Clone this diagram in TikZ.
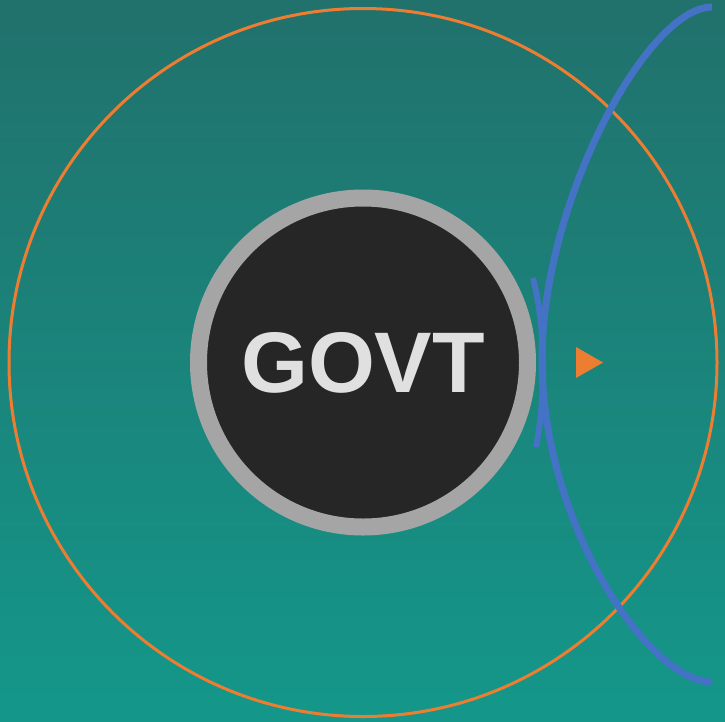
\documentclass[tikz,border=0pt]{standalone}
\usepackage{fontspec}
\setmainfont{Liberation Sans}
\definecolor{tealtop}{RGB}{33,113,108}
\definecolor{tealbottom}{RGB}{20,151,138}
\definecolor{orbitorange}{RGB}{237,125,49}
\definecolor{waveblue}{RGB}{68,114,196}
\definecolor{ringgray}{RGB}{165,165,165}
\definecolor{coredark}{RGB}{38,38,38}
\definecolor{textgray}{RGB}{224,224,224}
\begin{document}
\begin{tikzpicture}[x=1pt,y=-1pt,
  main node/.style={circle,draw=ringgray,line width=17pt,fill=coredark,minimum size=329pt,inner sep=0pt,text=textgray,font=\fontsize{86}{86}\selectfont\bfseries},
  orbit/.style={draw=orbitorange,line width=3pt},
  wave/.style={draw=waveblue,line width=7pt}]
	\useasboundingbox (0,0) rectangle (725,721);
	\shade[top color=tealtop,bottom color=tealbottom] (0,0) rectangle (725,721);

	\node[main node] at (363,362.5) (govt) {GOVT};
	\draw[orbit] (govt.center) circle[radius=354pt];

	\coordinate (wave top) at (712,7);
	\coordinate (wave bottom) at (712,682);
	\draw[wave] (wave top) .. controls (648,7) and (542,200) .. (542,360) .. controls (542,522) and (648,682) .. (wave bottom);
	\draw[wave,line width=6pt] (533,278) .. controls (546,330) and (546,395) .. (536,447);

	\fill[orbitorange] (576,347) -- (603,362.5) -- (576,378) -- cycle;
\end{tikzpicture}
\end{document}
